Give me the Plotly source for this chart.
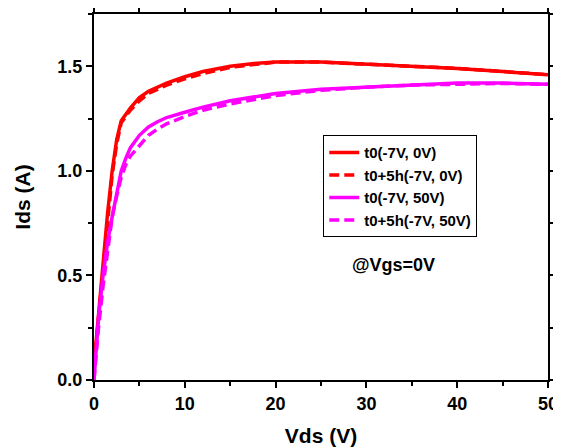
import plotly.graph_objects as go

# Data
vds_red = [0, 0.5, 1, 1.5, 2, 2.5, 3, 4, 5, 6, 8, 10, 12, 15, 18, 20, 25, 30, 35, 40, 45, 50]
ids_t0_0v = [0.07, 0.32, 0.57, 0.80, 1.00, 1.15, 1.24, 1.30, 1.35, 1.38, 1.42, 1.45, 1.475, 1.50, 1.515, 1.52, 1.52, 1.51, 1.50, 1.49, 1.475, 1.46]
ids_5h_0v = [0.07, 0.30, 0.55, 0.78, 0.98, 1.13, 1.23, 1.29, 1.335, 1.37, 1.41, 1.44, 1.465, 1.495, 1.512, 1.52, 1.52, 1.51, 1.50, 1.49, 1.475, 1.46]

vds_mag = [0, 0.5, 1, 1.5, 2, 2.5, 3, 3.5, 4, 5, 6, 7, 8, 10, 12, 15, 20, 25, 30, 35, 40, 45, 50]
ids_t0_50v = [0.0, 0.30, 0.50, 0.66, 0.78, 0.90, 1.00, 1.06, 1.11, 1.17, 1.21, 1.235, 1.255, 1.28, 1.305, 1.335, 1.37, 1.39, 1.40, 1.41, 1.42, 1.42, 1.414]
ids_5h_50v = [0.0, 0.25, 0.45, 0.62, 0.78, 0.88, 0.97, 1.03, 1.07, 1.12, 1.17, 1.20, 1.225, 1.26, 1.29, 1.32, 1.36, 1.385, 1.40, 1.41, 1.415, 1.418, 1.414]

names = ["t0(-7V, 0V)", "t0+5h(-7V, 0V)", "t0(-7V, 50V)", "t0+5h(-7V, 50V)"]
x_ticks = [0, 10, 20, 30, 40, 50]
y_ticks = [0.0, 0.5, 1.0, 1.5]
y_tick_text = ["0.0", "0.5", "1.0", "1.5"]

RED = "#ff0000"
MAG = "#ff00ff"
FONT = "Liberation Sans, Arial, sans-serif"

fig = go.Figure()
fig.add_trace(go.Scatter(x=vds_red, y=ids_t0_0v, mode="lines", name=names[0],
                         line=dict(color=RED, width=3.5)))
fig.add_trace(go.Scatter(x=vds_red, y=ids_5h_0v, mode="lines", name=names[1],
                         line=dict(color=RED, width=3.5, dash="10px,5px")))
fig.add_trace(go.Scatter(x=vds_mag, y=ids_t0_50v, mode="lines", name=names[2],
                         line=dict(color=MAG, width=3.5)))
fig.add_trace(go.Scatter(x=vds_mag, y=ids_5h_50v, mode="lines", name=names[3],
                         line=dict(color=MAG, width=3.5, dash="10px,5px")))

axis_common = dict(
    showline=True, linecolor="black", linewidth=2, mirror="ticks",
    ticks="outside", ticklen=6, tickwidth=2, tickcolor="black",
    showgrid=False, zeroline=False, automargin=False,
    tickfont=dict(family=FONT, size=18, color="black", weight="bold"),
)

fig.update_xaxes(
    range=[0, 50], tickvals=x_ticks, ticktext=[str(v) for v in x_ticks],
    minor=dict(ticks="outside", ticklen=4, tickwidth=2, tickcolor="black", dtick=5, tick0=0),
    title=dict(text="Vds (V)", font=dict(family=FONT, size=21, color="black", weight="bold"), standoff=16),
    **axis_common,
)
fig.update_yaxes(
    range=[0, 1.75], tickvals=y_ticks, ticktext=y_tick_text,
    minor=dict(ticks="outside", ticklen=4, tickwidth=2, tickcolor="black", dtick=0.25, tick0=0),
    title=dict(text="Ids (A)", font=dict(family=FONT, size=21, color="black", weight="bold"), standoff=21),
    **axis_common,
)

fig.add_annotation(x=33.0, y=0.55, xref="x", yref="y", text="@Vgs=0V", showarrow=False,
                   font=dict(family=FONT, size=18, color="black", weight="bold"))

# The page body adds an 8px offset, so the figure is sized/margined to compensate.
fig.update_layout(
    width=553, height=440, autosize=False,
    margin=dict(l=86, r=13, t=6, b=68),
    paper_bgcolor="white", plot_bgcolor="white",
    legend=dict(x=0.505, y=0.669, xanchor="left", yanchor="top",
                bordercolor="black", borderwidth=1, bgcolor="white",
                font=dict(family=FONT, size=15, color="black", weight="bold"),
                itemwidth=30, tracegroupgap=0),
    showlegend=True,
)

fig.write_html("out.html")
